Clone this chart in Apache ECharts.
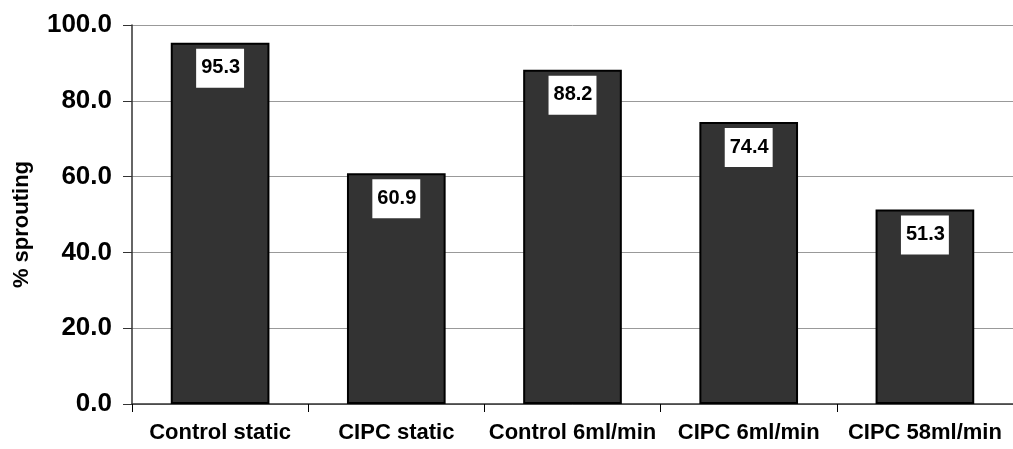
<!DOCTYPE html>
<html>
<head>
<meta charset="utf-8">
<script src="https://cdn.jsdelivr.net/npm/echarts@6/dist/echarts.min.js"></script>
<style>html,body{margin:0;padding:0;background:#fff;}#c{width:1013px;height:449px;}</style>
</head>
<body>
<div id="c"></div>
<script>
const categories = ['Control static', 'CIPC static', 'Control 6ml/min', 'CIPC 6ml/min', 'CIPC 58ml/min'];
const sprouting = [95.3, 60.9, 88.2, 74.4, 51.3];
const yTicks = [0, 20, 40, 60, 80, 100];
const yAxisTitle = '% sprouting';

const FONT = '"Liberation Sans", Arial, sans-serif';
const chart = echarts.init(document.getElementById('c'), null, {renderer: 'canvas'});
chart.setOption({
  animation: false,
  backgroundColor: '#ffffff',
  grid: {left: 132, top: 25, width: 892.5, height: 379, containLabel: false},
  xAxis: {
    type: 'category',
    data: categories,
    boundaryGap: true,
    axisLine: {show: true, lineStyle: {color: '#333333', width: 1.5}},
    axisTick: {show: true, length: 8, alignWithLabel: false, lineStyle: {color: '#000000', width: 1}},
    axisLabel: {color: '#000000', fontFamily: FONT, fontWeight: 'bold', fontSize: 22, margin: 18, interval: 0},
    splitLine: {show: false}
  },
  yAxis: {
    type: 'value',
    min: yTicks[0],
    max: yTicks[yTicks.length - 1],
    interval: yTicks[1] - yTicks[0],
    name: yAxisTitle,
    nameLocation: 'middle',
    nameGap: 99,
    nameRotate: 90,
    nameTextStyle: {color: '#000000', fontFamily: FONT, fontWeight: 'bold', fontSize: 22, padding: [0, 20, 0, 0]},
    axisLine: {show: true, lineStyle: {color: '#333333', width: 1.5}},
    axisTick: {show: true, length: 9, inside: false, lineStyle: {color: '#333333', width: 1}},
    axisLabel: {color: '#000000', fontFamily: FONT, fontWeight: 'bold', fontSize: 26, margin: 20,
      formatter: v => v.toFixed(1)},
    splitLine: {show: true, lineStyle: {color: '#999999', width: 1}}
  },
  series: [{
    type: 'bar',
    data: sprouting,
    barCategoryGap: '44%',
    itemStyle: {color: '#333333', borderColor: '#000000', borderWidth: 2},
    label: {
      show: true,
      position: 'insideTop',
      distance: 6,
      color: '#000000',
      fontFamily: FONT,
      fontWeight: 'bold',
      fontSize: 20,
      lineHeight: 22,
      backgroundColor: '#ffffff',
      padding: [8, 4, 9, 5],
      formatter: p => p.value.toFixed(1)
    }
  }]
});
</script>
</body>
</html>
